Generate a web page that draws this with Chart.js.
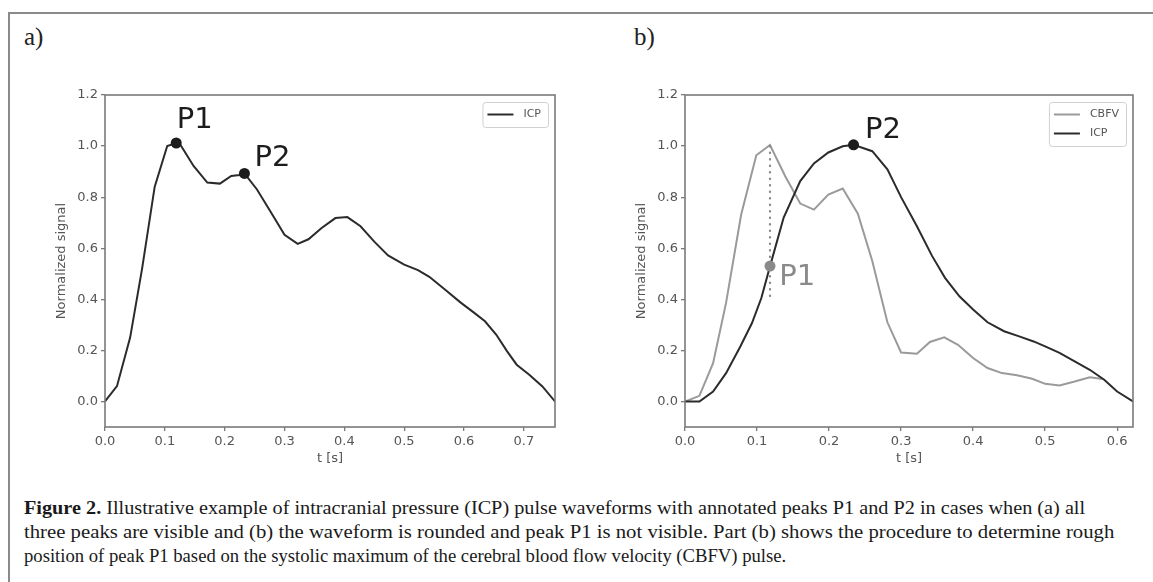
<!DOCTYPE html>
<html>
<head>
<meta charset="utf-8">
<script src="https://cdn.jsdelivr.net/npm/chart.js@4.4.1/dist/chart.umd.min.js"></script>
<style>
body { margin: 0; background: #fff; width: 1153px; height: 582px; overflow: hidden; position: relative; }
#frame { position: absolute; left: 8px; top: 12px; width: 1200px; height: 600px; border-left: 2px solid #8a8a8a; border-top: 2px solid #8a8a8a; }
.panel { position: absolute; font-family: "Liberation Serif", serif; font-size: 25px; color: #222; line-height: 26px; }
canvas { position: absolute; }
.cap { position: absolute; left: 24px; font-family: "Liberation Serif", serif; font-size: 19px; line-height: 22px; color: #1a1a1a; white-space: nowrap; transform-origin: 0 50%; }
</style>
</head>
<body>
<div id="frame"></div>
<div class="panel" style="left:24px;top:24px">a)</div>
<div class="panel" style="left:634px;top:24px">b)</div>
<canvas id="chartA" width="530" height="390" style="left:40px;top:80px"></canvas>
<canvas id="chartB" width="525" height="390" style="left:625px;top:80px"></canvas>
<div class="cap" data-w="1061" style="top:497px"><b>Figure 2.</b> Illustrative example of intracranial pressure (ICP) pulse waveforms with annotated peaks P1 and P2 in cases when (a) all</div>
<div class="cap" data-w="1090" style="top:521px">three peaks are visible and (b) the waveform is rounded and peak P1 is not visible. Part (b) shows the procedure to determine rough</div>
<div class="cap" data-w="762" style="top:545px">position of peak P1 based on the systolic maximum of the cerebral blood flow velocity (CBFV) pulse.</div>
<script>
// panel a) ICP pulse
const tA = [0, 0.02, 0.042, 0.062, 0.083, 0.104, 0.119, 0.126, 0.148, 0.171, 0.192, 0.211, 0.225, 0.233,
  0.254, 0.278, 0.30, 0.322, 0.34, 0.362, 0.385, 0.405, 0.427, 0.45, 0.473, 0.5, 0.523, 0.542, 0.567,
  0.595, 0.616, 0.635, 0.654, 0.672, 0.688, 0.709, 0.731, 0.752];
const icpA = [0, 0.06, 0.25, 0.52, 0.84, 1.0, 1.012, 1.005, 0.922, 0.857, 0.853, 0.883, 0.887, 0.893,
  0.83, 0.738, 0.653, 0.617, 0.635, 0.679, 0.718, 0.722, 0.686, 0.626, 0.572, 0.536, 0.514, 0.488, 0.44,
  0.386, 0.349, 0.314, 0.261, 0.196, 0.144, 0.105, 0.059, 0];

// panel b) ICP and CBFV
const tB = [0, 0.02, 0.039, 0.057, 0.077, 0.093, 0.106, 0.118, 0.137, 0.16, 0.179, 0.199, 0.219, 0.234,
  0.26, 0.281, 0.3, 0.322, 0.343, 0.361, 0.381, 0.4, 0.42, 0.443, 0.464, 0.484, 0.5, 0.52, 0.541, 0.562,
  0.582, 0.6, 0.622];
const icpB = [0, 0, 0.039, 0.111, 0.216, 0.307, 0.405, 0.529, 0.72, 0.863, 0.932, 0.975, 0.999, 1.005,
  0.98, 0.909, 0.80, 0.686, 0.57, 0.484, 0.412, 0.36, 0.31, 0.275, 0.255, 0.235, 0.216, 0.19, 0.157, 0.124,
  0.085, 0.039, 0];
const tCbfv = [0, 0.02, 0.039, 0.057, 0.078, 0.099, 0.118, 0.139, 0.16, 0.179, 0.199, 0.219, 0.24, 0.26,
  0.281, 0.3, 0.322, 0.34, 0.36, 0.379, 0.4, 0.42, 0.44, 0.461, 0.482, 0.5, 0.52, 0.541, 0.562, 0.58];
const cbfv = [0, 0.022, 0.15, 0.386, 0.732, 0.964, 1.004, 0.883, 0.775, 0.751, 0.81, 0.834, 0.735, 0.55,
  0.31, 0.192, 0.187, 0.233, 0.251, 0.222, 0.17, 0.131, 0.111, 0.103, 0.089, 0.069, 0.063, 0.078, 0.095, 0.088];

// peaks [t, value]
const peaksA = { P1: [0.119, 1.012], P2: [0.233, 0.893] };
const peaksB = { P1: [0.118, 0.53], P2: [0.234, 1.005] };
const cbfvMax = [0.118, 1.0];
const p1Guide = [1.0, 0.41];

// tick values
const yTicks = [0, 0.2, 0.4, 0.6, 0.8, 1.0, 1.2];
const xTicksA = [0, 0.1, 0.2, 0.3, 0.4, 0.5, 0.6, 0.7];
const xTicksB = [0, 0.1, 0.2, 0.3, 0.4, 0.5, 0.6];

const DARK = '#2b2b2b';
const LIGHT = '#9a9a9a';
const AXIS = '#7a7a7a';
const TXT = '#555';
const SANS = '"DejaVu Sans", sans-serif';
const FS = 13;

const pts = (xs, ys) => xs.map((x, i) => ({ x: x, y: ys[i] }));

// box around the plot, like matplotlib spines
const spines = {
  id: 'spines',
  afterDraw(chart) {
    const a = chart.chartArea, c = chart.ctx;
    c.save();
    c.strokeStyle = AXIS;
    c.lineWidth = 1.6;
    c.strokeRect(a.left, a.top, a.right - a.left, a.bottom - a.top);
    c.restore();
  }
};

// P1 / P2 text next to the peaks
const notes = {
  id: 'notes',
  afterDatasetsDraw(chart, args, opts) {
    const c = chart.ctx, xs = chart.scales.x, ys = chart.scales.y;
    c.save();
    c.font = '29px ' + SANS;
    c.textBaseline = 'middle';
    c.textAlign = 'left';
    (opts.items || []).forEach(n => {
      c.fillStyle = n.color;
      c.fillText(n.text, xs.getPixelForValue(n.x), ys.getPixelForValue(n.y));
    });
    c.restore();
  }
};

// matplotlib style legend box in the upper right corner
const boxLegend = {
  id: 'boxLegend',
  afterDraw(chart) {
    const items = chart.data.datasets.filter(d => d.inLegend);
    const c = chart.ctx, a = chart.chartArea;
    c.save();
    c.font = '11px ' + SANS;
    const tw = Math.max(...items.map(d => c.measureText(d.label).width));
    const w = 5 + 26 + 10 + tw + 7, rowH = 19, h = 6 + rowH * items.length;
    const x0 = a.right - 7 - w, y0 = a.top + 7;
    c.fillStyle = 'rgba(255,255,255,0.9)';
    c.strokeStyle = '#d0d0d0';
    c.lineWidth = 1;
    c.beginPath();
    c.roundRect(x0 + 0.5, y0 + 0.5, w, h, 3);
    c.fill();
    c.stroke();
    items.forEach((d, i) => {
      const y = y0 + 3 + rowH * i + rowH / 2;
      c.strokeStyle = d.borderColor;
      c.lineWidth = 2;
      c.beginPath();
      c.moveTo(x0 + 5, y);
      c.lineTo(x0 + 31, y);
      c.stroke();
      c.fillStyle = TXT;
      c.textBaseline = 'middle';
      c.fillText(d.label, x0 + 41, y);
    });
    c.restore();
  }
};

function axisX(xMax, ticks) {
  return {
    type: 'linear', min: 0, max: xMax,
    afterBuildTicks: s => { s.ticks = ticks.map(v => ({ value: v })); },
    afterFit: s => { s.height = 43; },
    ticks: { autoSkip: false, maxRotation: 0, padding: 3, color: TXT, font: { family: SANS, size: FS },
      callback: v => v.toFixed(1) },
    grid: { drawOnChartArea: false, drawTicks: true, tickLength: 4, color: AXIS, lineWidth: 1.3 },
    border: { display: false },
    title: { display: true, text: 't [s]', color: TXT, font: { family: SANS, size: FS }, padding: { top: 0, bottom: 4 } }
  };
}

function axisY(width, titlePad) {
  return {
    min: -0.1, max: 1.2,
    afterBuildTicks: s => { s.ticks = yTicks.map(v => ({ value: v })); },
    afterFit: s => { s.width = width; },
    ticks: { autoSkip: false, padding: 3, color: TXT, font: { family: SANS, size: FS },
      callback: v => v.toFixed(1) },
    grid: { drawOnChartArea: false, drawTicks: true, tickLength: 4, color: AXIS, lineWidth: 1.3 },
    border: { display: false },
    title: { display: true, text: 'Normalized signal', color: TXT, font: { family: SANS, size: FS }, padding: { top: titlePad, bottom: 0 } }
  };
}

function lineSet(label, xs, ys, color, order) {
  return { type: 'line', label: label, data: pts(xs, ys), borderColor: color, borderWidth: 2,
    pointRadius: 0, tension: 0, fill: false, inLegend: true, order: order };
}

function dotSet(p, color) {
  return { type: 'scatter', label: '', data: [{ x: p[0], y: p[1] }], pointRadius: 5.5,
    pointBackgroundColor: color, pointBorderWidth: 0, order: 0 };
}

function baseOptions(xMax, xTicks, yWidth, titlePad, padRight, noteItems) {
  return {
    responsive: false,
    animation: false,
    layout: { padding: { left: 0, top: 15, right: padRight, bottom: 0 } },
    scales: { x: axisX(xMax, xTicks), y: axisY(yWidth, titlePad) },
    plugins: { legend: { display: false }, tooltip: { enabled: false }, notes: { items: noteItems } }
  };
}

new Chart(document.getElementById('chartA'), {
  type: 'line',
  data: {
    datasets: [
      dotSet(peaksA.P1, '#1c1c1c'),
      dotSet(peaksA.P2, '#1c1c1c'),
      lineSet('ICP', tA, icpA, DARK, 2)
    ]
  },
  options: baseOptions(0.752, xTicksA, 65, 14, 15, [
    { text: 'P1', x: 0.12, y: 1.1, color: '#1c1c1c' },
    { text: 'P2', x: 0.25, y: 0.95, color: '#1c1c1c' }
  ]),
  plugins: [spines, notes, boxLegend]
});

new Chart(document.getElementById('chartB'), {
  type: 'line',
  data: {
    datasets: [
      dotSet(peaksB.P2, '#1c1c1c'),
      dotSet(peaksB.P1, '#8a8a8a'),
      { type: 'line', label: '', data: [{ x: cbfvMax[0], y: p1Guide[0] }, { x: cbfvMax[0], y: p1Guide[1] }],
        borderColor: '#888', borderWidth: 2.2, borderDash: [0.5, 6], borderCapStyle: 'round',
        pointRadius: 0, order: 1 },
      lineSet('CBFV', tCbfv, cbfv, LIGHT, 3),
      lineSet('ICP', tB, icpB, DARK, 2)
    ]
  },
  options: baseOptions(0.622, xTicksB, 60, 9, 17, [
    { text: 'P2', x: 0.25, y: 1.06, color: '#1c1c1c' },
    { text: 'P1', x: 0.131, y: 0.487, color: '#8a8a8a' }
  ]),
  plugins: [spines, notes, boxLegend]
});

// squeeze the caption lines to the widths of the printed figure
document.querySelectorAll('.cap').forEach(el => {
  const k = Number(el.dataset.w) / el.offsetWidth;
  el.style.transform = 'scaleX(' + k.toFixed(3) + ')';
});
</script>
</body>
</html>
